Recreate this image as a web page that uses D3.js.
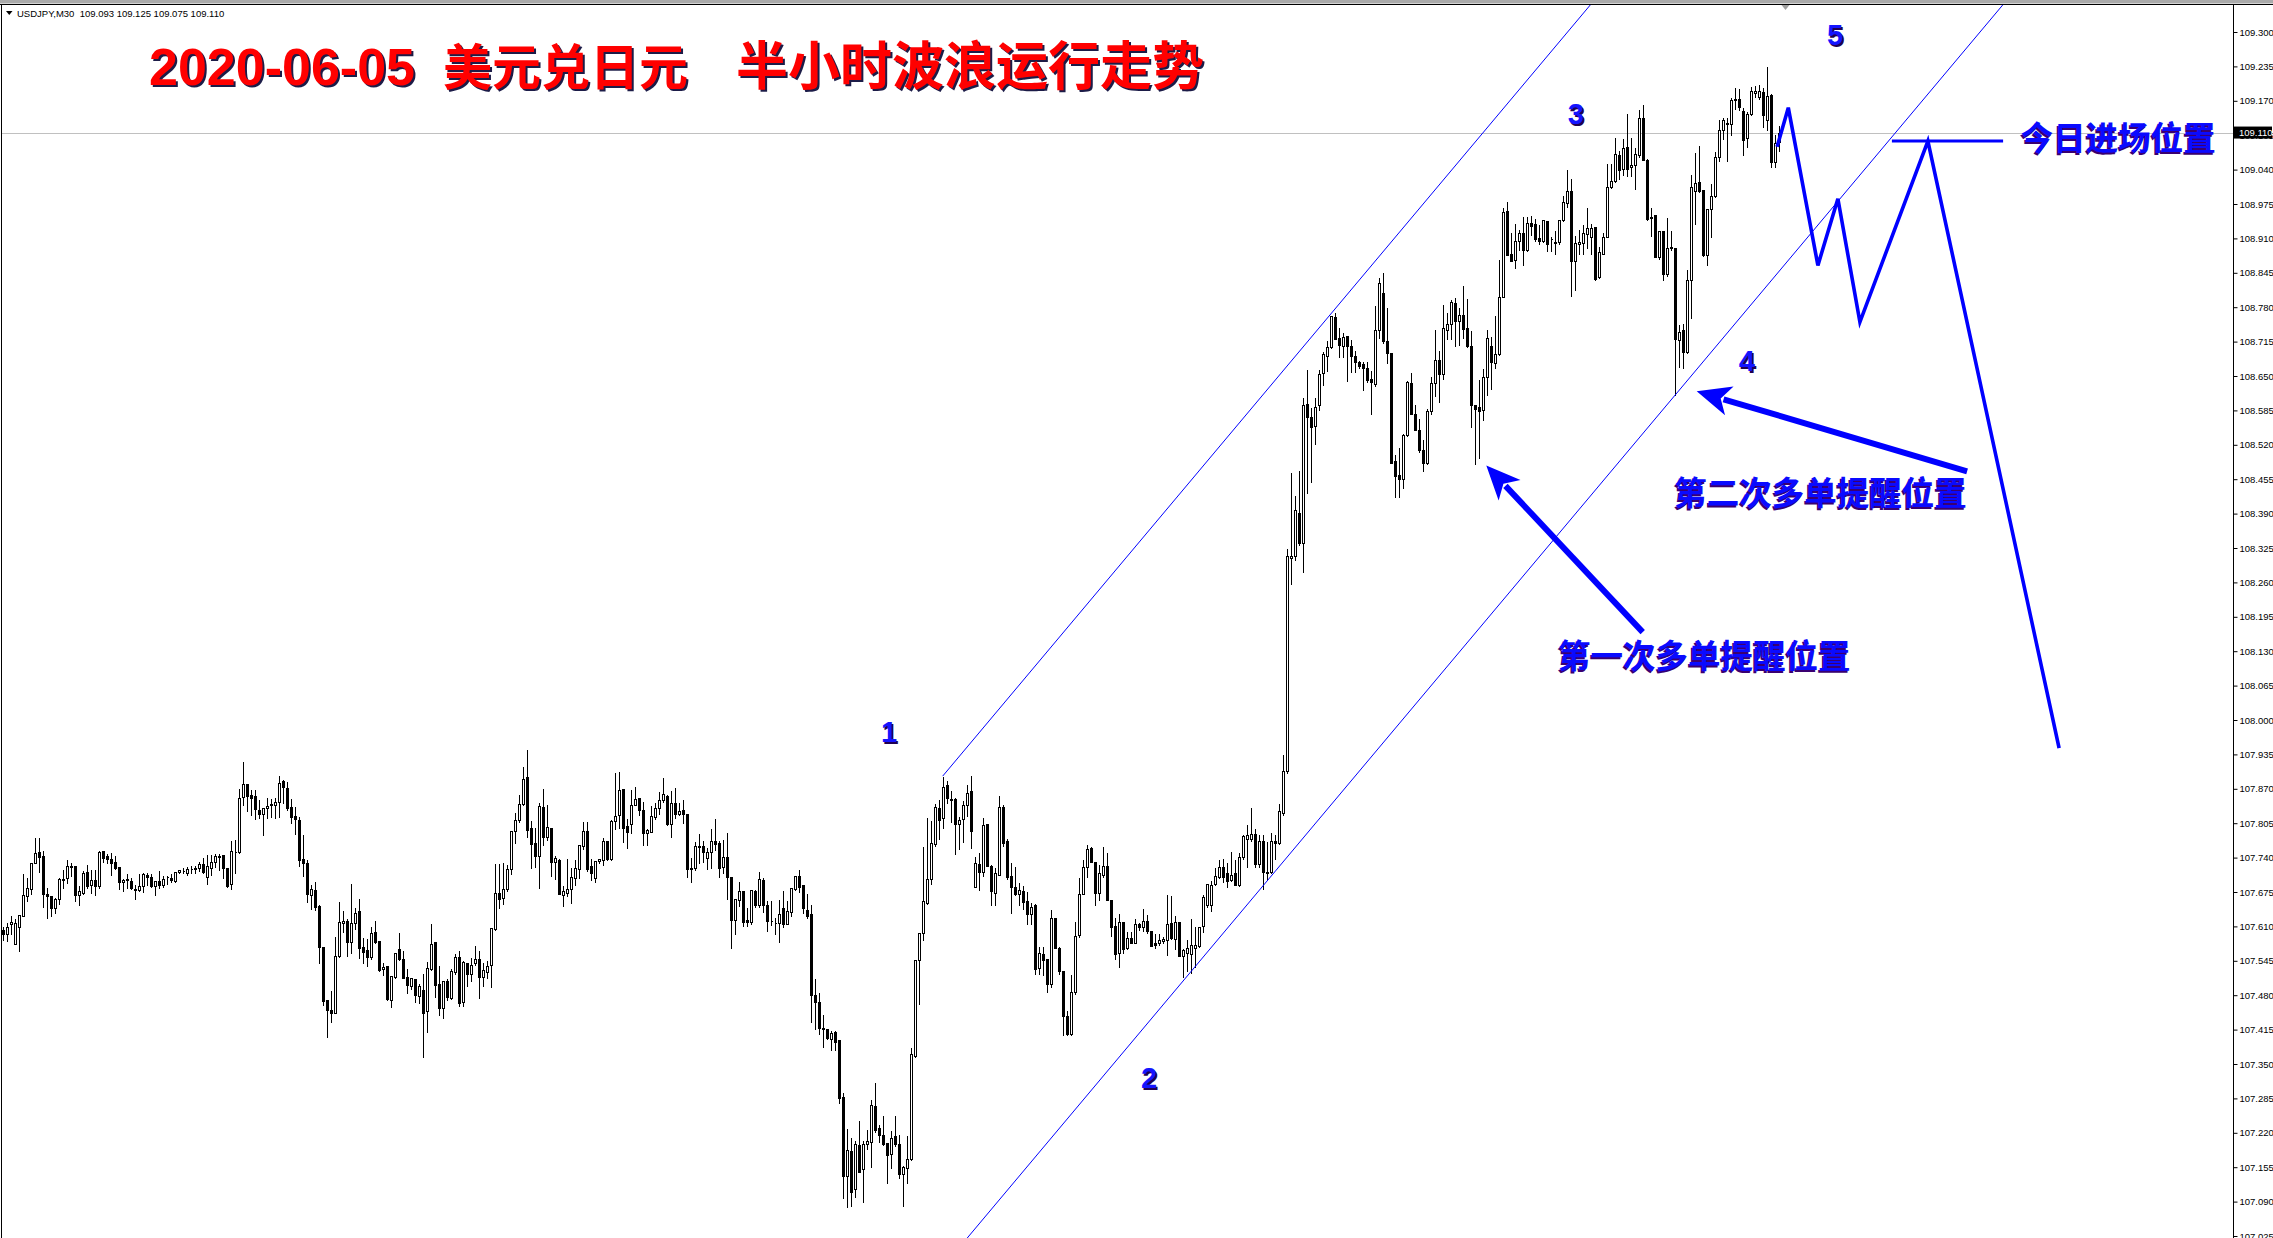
<!DOCTYPE html>
<html><head><meta charset="utf-8">
<script src="https://cdn.jsdelivr.net/npm/d3@7"></script>
<style>html,body{margin:0;padding:0;background:#fff;overflow:hidden}</style>
</head><body><svg id="c" width="2273" height="1238" xmlns="http://www.w3.org/2000/svg"></svg>
<script>
const symbolInfo = "USDJPY,M30  109.093 109.125 109.075 109.110";
const titleParts = ["2020-06-05", "美元兑日元", "半小时波浪运行走势"];
// [open, high, low, close] per 30-minute bar
const ohlc = [
[107.603,107.610,107.585,107.595],[107.595,107.619,107.583,107.609],[107.614,107.631,107.595,107.619],[107.576,107.625,107.576,107.616],[107.608,107.634,107.564,107.631],
[107.630,107.710,107.630,107.670],[107.668,107.704,107.658,107.682],[107.680,107.732,107.671,107.729],[107.730,107.779,107.730,107.748],[107.750,107.779,107.713,107.741],
[107.743,107.755,107.647,107.672],[107.672,107.685,107.626,107.668],[107.667,107.670,107.629,107.644],[107.644,107.666,107.636,107.661],[107.661,107.704,107.653,107.699],
[107.697,107.719,107.682,107.699],[107.701,107.738,107.692,107.725],[107.724,107.732,107.705,107.722],[107.724,107.726,107.658,107.670],[107.670,107.688,107.651,107.676],
[107.674,107.716,107.672,107.711],[107.712,107.727,107.683,107.687],[107.689,107.719,107.673,107.697],[107.697,107.718,107.670,107.687],[107.687,107.754,107.683,107.750],
[107.752,107.754,107.732,107.740],[107.743,107.749,107.729,107.737],[107.737,107.750,107.708,107.729],[107.731,107.744,107.718,107.721],[107.722,107.723,107.680,107.693],
[107.693,107.702,107.677,107.697],[107.697,107.710,107.683,107.699],[107.695,107.704,107.680,107.682],[107.680,107.691,107.661,107.679],[107.679,107.710,107.677,107.687],
[107.687,107.713,107.675,107.709],[107.708,107.712,107.689,107.704],[107.703,107.711,107.685,107.687],[107.687,107.697,107.670,107.695],[107.695,107.716,107.683,107.689],
[107.688,107.707,107.684,107.700],[107.703,107.707,107.691,107.704],[107.701,107.711,107.693,107.697],[107.695,107.715,107.694,107.713],[107.712,107.719,107.710,107.716],
[107.714,107.723,107.710,107.714],[107.711,107.724,107.708,107.718],[107.718,107.726,107.710,107.719],[107.720,107.726,107.711,107.719],[107.721,107.733,107.715,107.727],
[107.728,107.741,107.710,107.712],[107.704,107.746,107.691,107.724],[107.721,107.746,107.708,107.731],[107.731,107.748,107.723,107.743],[107.742,107.748,107.716,107.743],
[107.745,107.746,107.702,107.721],[107.721,107.723,107.685,107.687],[107.690,107.773,107.680,107.752],[107.750,107.775,107.711,107.750],[107.751,107.871,107.749,107.852],
[107.854,107.922,107.839,107.880],[107.880,107.881,107.828,107.857],[107.859,107.869,107.821,107.853],[107.856,107.869,107.813,107.831],[107.830,107.850,107.815,107.823],
[107.822,107.836,107.783,107.833],[107.833,107.854,107.815,107.837],[107.839,107.852,107.816,107.842],[107.839,107.854,107.815,107.845],[107.845,107.896,107.816,107.881],
[107.885,107.888,107.843,107.874],[107.872,107.885,107.830,107.834],[107.836,107.852,107.806,107.816],[107.818,107.838,107.784,107.812],[107.811,107.819,107.724,107.736],
[107.737,107.784,107.706,107.729],[107.730,107.738,107.656,107.672],[107.670,107.690,107.643,107.680],[107.679,107.695,107.641,107.647],[107.649,107.653,107.540,107.571],
[107.571,107.573,107.461,107.469],[107.471,107.471,107.401,107.452],[107.452,107.490,107.430,107.447],[107.447,107.592,107.446,107.555],[107.555,107.658,107.553,107.618],
[107.616,107.641,107.599,107.621],[107.620,107.625,107.555,107.581],[107.581,107.692,107.559,107.616],[107.616,107.647,107.606,107.636],[107.639,107.663,107.551,107.570],
[107.571,107.590,107.540,107.562],[107.566,107.589,107.536,107.553],[107.553,107.611,107.548,107.597],[107.599,107.622,107.578,107.580],[107.582,107.582,107.526,107.527],
[107.529,107.543,107.518,107.534],[107.535,107.535,107.471,107.472],[107.471,107.518,107.457,107.516],[107.515,107.562,107.513,107.560],[107.568,107.599,107.546,107.549],
[107.549,107.566,107.512,107.513],[107.514,107.531,107.485,107.500],[107.498,107.515,107.492,107.512],[107.510,107.513,107.467,107.480],[107.479,107.503,107.466,107.497],
[107.490,107.522,107.364,107.447],[107.451,107.545,107.411,107.532],[107.529,107.616,107.527,107.577],[107.580,107.582,107.477,107.500],[107.501,107.538,107.442,107.456],
[107.456,107.507,107.436,107.506],[107.506,107.512,107.471,107.477],[107.475,107.532,107.472,107.526],[107.524,107.560,107.521,107.552],[107.552,107.566,107.459,107.466],
[107.468,107.546,107.459,107.543],[107.541,107.543,107.498,107.521],[107.521,107.553,107.507,107.538],[107.540,107.575,107.538,107.549],[107.549,107.565,107.474,107.515],
[107.515,107.542,107.498,107.527],[107.523,107.546,107.512,107.536],[107.537,107.609,107.496,107.607],[107.605,107.730,107.603,107.674],[107.674,107.730,107.645,107.661],
[107.663,107.732,107.653,107.680],[107.681,107.727,107.677,107.718],[107.718,107.793,107.709,107.790],[107.791,107.827,107.767,107.811],[107.811,107.861,107.808,107.841],
[107.841,107.913,107.839,107.888],[107.892,107.946,107.778,107.793],[107.795,107.811,107.721,107.765],[107.767,107.797,107.723,107.743],[107.743,107.846,107.683,107.837],
[107.835,107.871,107.764,107.779],[107.779,107.842,107.773,107.797],[107.796,107.796,107.706,107.731],[107.731,107.745,107.699,107.740],[107.735,107.740,107.671,107.672],
[107.670,107.689,107.649,107.676],[107.674,107.740,107.668,107.681],[107.681,107.722,107.655,107.703],[107.702,107.738,107.689,107.720],[107.719,107.766,107.701,107.763],
[107.762,107.809,107.756,107.790],[107.790,107.809,107.715,107.718],[107.724,107.739,107.697,107.711],[107.702,107.735,107.694,107.733],[107.734,107.740,107.729,107.737],
[107.735,107.778,107.726,107.771],[107.771,107.774,107.735,107.737],[107.737,107.812,107.735,107.809],[107.810,107.902,107.794,107.818],[107.820,107.904,107.795,107.867],
[107.869,107.871,107.770,107.796],[107.800,107.815,107.759,107.789],[107.804,107.869,107.787,107.839],[107.840,107.875,107.839,107.850],[107.852,107.853,107.820,107.829],
[107.830,107.847,107.764,107.787],[107.787,107.795,107.764,107.792],[107.789,107.839,107.788,107.818],[107.816,107.845,107.812,107.833],[107.834,107.866,107.822,107.848],
[107.848,107.892,107.845,107.860],[107.857,107.860,107.801,107.804],[107.804,107.867,107.779,107.844],[107.844,107.873,107.815,107.823],[107.823,107.845,107.820,107.828],
[107.829,107.850,107.806,107.822],[107.822,107.822,107.704,107.718],[107.719,107.741,107.694,107.721],[107.721,107.772,107.717,107.761],[107.760,107.787,107.730,107.762],
[107.762,107.773,107.732,107.751],[107.740,107.760,107.718,107.750],[107.751,107.796,107.721,107.771],[107.771,107.814,107.754,107.765],[107.767,107.773,107.704,107.721],
[107.722,107.776,107.710,107.742],[107.741,107.788,107.661,107.704],[107.704,107.704,107.570,107.622],[107.622,107.662,107.595,107.661],[107.660,107.696,107.649,107.677],
[107.677,107.679,107.611,107.619],[107.622,107.647,107.611,107.619],[107.618,107.680,107.614,107.679],[107.677,107.680,107.647,107.650],[107.650,107.714,107.647,107.699],
[107.697,107.704,107.638,107.650],[107.651,107.660,107.601,107.621],[107.621,107.660,107.612,107.620],[107.617,107.628,107.595,107.616],[107.617,107.661,107.581,107.634],
[107.644,107.679,107.609,107.614],[107.614,107.660,107.614,107.639],[107.638,107.685,107.629,107.682],[107.680,107.707,107.679,107.705],[107.705,107.718,107.675,107.685],
[107.688,107.689,107.636,107.645],[107.641,107.673,107.625,107.630],[107.633,107.653,107.430,107.480],[107.480,107.512,107.417,107.467],[107.468,107.486,107.406,107.418],
[107.418,107.444,107.382,107.417],[107.417,107.417,107.398,107.399],[107.398,107.414,107.376,107.408],[107.410,107.414,107.376,107.392],[107.395,107.395,107.277,107.286],
[107.287,107.297,107.097,107.139],[107.139,107.229,107.080,107.187],[107.185,107.212,107.081,107.108],[107.113,107.206,107.099,107.198],[107.197,107.245,107.146,107.146],
[107.151,107.206,107.090,107.198],[107.198,107.228,107.190,107.204],[107.203,107.283,107.156,107.272],[107.270,107.316,107.222,107.226],[107.229,107.237,107.203,107.216],
[107.216,107.253,107.197,107.199],[107.201,107.201,107.125,107.178],[107.179,107.226,107.154,107.211],[107.214,107.253,107.195,107.198],[107.198,107.217,107.135,107.143],
[107.143,107.159,107.081,107.156],[107.154,107.216,107.125,107.171],[107.170,107.383,107.168,107.368],[107.365,107.549,107.364,107.546],[107.546,107.600,107.464,107.598],
[107.597,107.762,107.584,107.658],[107.655,107.817,107.653,107.699],
[107.700,107.811,107.690,107.768],[107.766,107.843,107.761,107.835],[107.833,107.850,107.775,107.811],[107.814,107.894,107.795,107.874],[107.877,107.886,107.843,107.852],
[107.850,107.867,107.807,107.849],[107.850,107.854,107.746,107.804],[107.804,107.819,107.756,107.811],[107.812,107.848,107.769,107.840],[107.840,107.879,107.819,107.862],
[107.865,107.896,107.758,107.790],[107.684,107.743,107.684,107.729],[107.727,107.751,107.679,107.713],[107.713,107.816,107.705,107.801],[107.803,107.803,107.725,107.725],
[107.725,107.727,107.650,107.676],[107.674,107.722,107.650,107.710],[107.708,107.859,107.708,107.836],[107.836,107.841,107.761,107.768],[107.771,107.777,107.700,107.703],
[107.705,107.732,107.636,107.684],[107.684,107.724,107.669,107.671],[107.671,107.693,107.650,107.679],[107.677,107.689,107.642,107.657],[107.658,107.677,107.614,107.633],
[107.633,107.657,107.614,107.647],[107.650,107.655,107.520,107.529],[107.531,107.573,107.520,107.560],[107.558,107.573,107.518,107.546],[107.549,107.549,107.486,107.501],
[107.501,107.643,107.496,107.626],[107.626,107.626,107.570,107.570],[107.570,107.573,107.520,107.525],[107.525,107.525,107.404,107.440],[107.440,107.452,107.404,107.406],
[107.406,107.520,107.404,107.486],[107.486,107.621,107.483,107.592],[107.594,107.703,107.590,107.671],[107.671,107.737,107.671,107.722],[107.722,107.766,107.703,107.756],
[107.758,107.761,107.732,107.732],[107.732,107.732,107.650,107.674],[107.674,107.727,107.660,107.710],[107.708,107.761,107.703,107.724],[107.724,107.751,107.660,107.660],
[107.660,107.660,107.592,107.609],[107.611,107.628,107.549,107.558],[107.560,107.635,107.534,107.618],[107.618,107.621,107.560,107.568],[107.570,107.602,107.568,107.589],
[107.589,107.602,107.578,107.578],[107.578,107.626,107.578,107.614],[107.614,107.618,107.604,107.609],[107.609,107.645,107.602,107.621],[107.621,107.633,107.597,107.602],
[107.602,107.602,107.573,107.573],[107.578,107.597,107.570,107.575],[107.578,107.597,107.575,107.584],[107.583,107.592,107.578,107.587],[107.584,107.672,107.556,107.614],
[107.616,107.669,107.587,107.589],[107.587,107.631,107.568,107.618],[107.618,107.618,107.554,107.554],[107.554,107.570,107.515,107.566],[107.560,107.587,107.525,107.570],
[107.558,107.626,107.522,107.575],[107.570,107.611,107.534,107.575],[107.573,107.611,107.571,107.609],[107.611,107.671,107.599,107.666],[107.650,107.690,107.647,107.690],
[107.650,107.698,107.640,107.688],[107.690,107.722,107.688,107.705],[107.703,107.737,107.701,107.722],[107.722,107.739,107.694,107.703],[107.710,107.732,107.684,107.695],
[107.698,107.753,107.695,107.708],[107.710,107.737,107.688,107.688],[107.688,107.751,107.686,107.742],[107.742,107.785,107.737,107.780],[107.775,107.804,107.722,107.782],
[107.775,107.835,107.772,107.785],[107.785,107.795,107.722,107.727],[107.727,107.785,107.722,107.771],[107.772,107.785,107.681,107.713],[107.713,107.771,107.698,107.710],
[107.713,107.788,107.710,107.771],[107.771,107.785,107.737,107.768],[107.768,107.843,107.766,107.828],[107.825,107.936,107.821,107.904],[107.904,108.325,107.899,108.310],
[108.307,108.469,108.257,108.310],[108.310,108.426,108.303,108.397],[108.392,108.472,108.330,108.334],
[108.334,108.611,108.280,108.596],[108.597,108.663,108.429,108.572],[108.572,108.591,108.449,108.554],[108.556,108.611,108.522,108.592],[108.596,108.664,108.585,108.653],
[108.655,108.697,108.633,108.691],[108.687,108.718,108.660,108.704],[108.705,108.766,108.702,108.764],[108.761,108.771,108.721,108.720],[108.722,108.742,108.685,108.709],
[108.707,108.734,108.685,108.724],[108.726,108.727,108.641,108.707],[108.707,108.719,108.657,108.687],[108.687,108.699,108.658,108.677],[108.677,108.680,108.665,108.668],
[108.673,108.679,108.623,108.665],[108.666,108.679,108.639,108.643],[108.645,108.662,108.579,108.639],[108.635,108.785,108.631,108.736],[108.736,108.837,108.722,108.826],
[108.807,108.847,108.712,108.717],[108.717,108.780,108.674,108.694],[108.693,108.693,108.486,108.486],[108.490,108.503,108.422,108.461],[108.463,108.515,108.422,108.455],
[108.456,108.542,108.439,108.539],[108.539,108.643,108.537,108.638],[108.637,108.658,108.578,108.579],[108.579,108.598,108.548,108.548],[108.548,108.571,108.507,108.511],
[108.511,108.531,108.471,108.486],[108.486,108.589,108.484,108.584],[108.584,108.650,108.579,108.636],[108.636,108.738,108.612,108.680],[108.680,108.700,108.601,108.653],
[108.653,108.786,108.645,108.741],[108.736,108.770,108.719,108.749],[108.749,108.795,108.720,108.790],[108.788,108.800,108.706,108.753],[108.753,108.780,108.709,108.766],
[108.766,108.822,108.722,108.739],[108.741,108.797,108.705,108.707],[108.707,108.736,108.554,108.596],[108.596,108.596,108.483,108.587],[108.591,108.645,108.496,108.584],
[108.585,108.665,108.567,108.648],[108.648,108.739,108.614,108.722],[108.707,108.726,108.625,108.677],[108.675,108.766,108.665,108.692],[108.692,108.871,108.689,108.799],
[108.800,108.969,108.799,108.959],[108.961,108.980,108.879,108.879],[108.881,108.922,108.868,108.868],[108.869,108.940,108.855,108.905],[108.905,108.927,108.888,108.920],
[108.920,108.952,108.859,108.888],[108.889,108.952,108.886,108.940],[108.940,108.954,108.916,108.934],[108.938,108.948,108.905,108.909],[108.911,108.938,108.900,108.906],
[108.905,108.947,108.903,108.945],[108.943,108.945,108.886,108.900],[108.909,108.915,108.886,108.908],[108.903,108.925,108.880,108.901],[108.903,108.945,108.900,108.944],
[108.944,108.992,108.942,108.979],
[108.977,109.041,108.970,108.999],[109.000,109.025,108.801,108.867],[108.867,108.916,108.813,108.902],[108.900,108.927,108.880,108.904],[108.902,108.938,108.880,108.920],
[108.919,108.970,108.891,108.929],[108.912,108.939,108.881,108.930],[108.932,108.933,108.832,108.834],[108.837,108.895,108.836,108.885],[108.881,108.922,108.880,108.913],
[108.913,109.052,108.912,109.007],[109.007,109.052,109.005,109.018],[109.018,109.101,109.017,109.070],[109.067,109.077,109.023,109.040],[109.042,109.099,109.029,109.080],
[109.082,109.147,109.028,109.042],[109.044,109.101,109.028,109.048],[109.048,109.083,109.004,109.069],[109.067,109.154,109.064,109.137],[109.137,109.164,109.058,109.059],
[109.059,109.061,108.944,108.946],[108.948,108.970,108.914,108.951],[108.954,108.955,108.874,108.875],[108.875,108.925,108.872,108.924],[108.924,108.925,108.831,108.842],
[108.842,108.951,108.839,108.891],[108.891,108.925,108.888,108.893],[108.891,108.891,108.615,108.719],[108.718,108.749,108.667,108.733],[108.737,108.751,108.666,108.696],
[108.696,108.853,108.693,108.832],[108.832,109.031,108.760,109.007],[109.000,109.074,108.938,109.014],[109.016,109.087,108.998,109.000],[109.001,109.001,108.876,108.878],
[108.878,108.966,108.859,108.965],[108.965,109.014,108.913,108.990],[108.990,109.075,108.988,109.063],[109.063,109.135,109.057,109.114],[109.114,109.140,109.097,109.133],
[109.127,109.140,109.057,109.128],[109.126,109.178,109.106,109.171],[109.172,109.196,109.155,109.174],[109.174,109.195,109.153,109.159],[109.150,109.159,109.068,109.096],
[109.099,109.151,109.083,109.145],[109.145,109.198,109.143,109.188],[109.185,109.200,109.178,109.188],[109.178,109.201,109.174,109.188],[109.187,109.196,109.120,109.143],
[109.133,109.235,109.114,109.179],[109.181,109.184,109.044,109.055],[109.055,109.108,109.044,109.091],[109.093,109.125,109.075,109.110]
];
const yTicks = [109.300,109.235,109.170,109.105,109.040,108.975,108.910,108.845,108.780,108.715,108.650,108.585,108.520,108.455,108.390,108.325,108.260,108.195,108.130,108.065,108.000,107.935,107.870,107.805,107.740,107.675,107.610,107.545,107.480,107.415,107.350,107.285,107.220,107.155,107.090,107.025];
const bidPrice = 109.110;
const channel = {startBar: 235, upper: 107.894, lower: 106.966, slopePerBar: 0.009, endBar: 620};
const waveLabels = [
  {t:"1", bar:221.6, p:107.958}, {t:"2", bar:286.6, p:107.304}, {t:"3", bar:393.3, p:109.126},
  {t:"4", bar:436.0, p:108.659}, {t:"5", bar:458.1, p:109.275}
];
const forecastPath = [[443.6,109.083],[446.4,109.157],[453.8,108.859],[458.8,108.985],[464.3,108.752],[481.3,109.094],[514.1,107.947]];
const entryLine = [[472.3,109.094],[500.1,109.094]];
const arrows = [
  {from:[410.0,108.166], to:[370.9,108.481]},
  {from:[491.1,108.470], to:[423.5,108.621]}
];
const notes = [
  {t:"第一次多单提醒位置", bar:388.8, p:108.098},
  {t:"第二次多单提醒位置", bar:417.9, p:108.406},
  {t:"今日进场位置", bar:504.5, p:109.077}
];
const shiftMarkerBar = 445.7;

const W = 2273, H = 1238, plotRight = 2233;
const svg = d3.select("#c");
const x = d3.scaleLinear().domain([0, 500]).range([2.7, 2002.7]);
const y = d3.scaleLinear().domain([107.025, 109.300]).range([1236, 32]);

svg.append("rect").attr("width", W).attr("height", H).attr("fill", "#fff");
const defs = svg.append("defs");
defs.append("clipPath").attr("id", "plot").append("rect").attr("x", 2).attr("y", 5).attr("width", plotRight - 2).attr("height", H - 5);

// frame
svg.append("rect").attr("x", 0).attr("y", 0).attr("width", W).attr("height", 3.5).attr("fill", "#aaaaaa");
svg.append("line").attr("x1", 0).attr("x2", W).attr("y1", 4.5).attr("y2", 4.5).attr("stroke", "#000");
svg.append("line").attr("x1", 1.5).attr("x2", 1.5).attr("y1", 4).attr("y2", H).attr("stroke", "#000");
svg.append("line").attr("x1", plotRight + 0.5).attr("x2", plotRight + 0.5).attr("y1", 4).attr("y2", H).attr("stroke", "#000");

const plot = svg.append("g").attr("clip-path", "url(#plot)");

// bid line
plot.append("line").attr("x1", 2).attr("x2", plotRight).attr("y1", Math.round(y(bidPrice)) + 0.5).attr("y2", Math.round(y(bidPrice)) + 0.5)
  .attr("stroke", "#c0c0c0").attr("stroke-width", 1);

// candles
const cg = plot.append("g").attr("shape-rendering", "crispEdges");
ohlc.forEach((d, i) => {
  const [o, h, l, c] = d;
  const cx = Math.round(x(i)) + 0.5;
  const yh = Math.round(y(h)) + 0.5, yl = Math.round(y(l)) + 0.5;
  cg.append("line").attr("x1", cx).attr("x2", cx).attr("y1", yh).attr("y2", yl).attr("stroke", "#000").attr("stroke-width", 1);
  const yt = Math.round(y(Math.max(o, c))) + 0.5, yb = Math.round(y(Math.min(o, c))) + 0.5;
  const bull = c >= o;
  cg.append("path").attr("d", `M${cx-1},${yt}H${cx+1}V${yb}H${cx-1}Z`)
    .attr("fill", bull ? "#fff" : "#000").attr("stroke", "#000").attr("stroke-width", 1);
});

// channel
const ch = channel, span = ch.endBar - ch.startBar;
[ch.upper, ch.lower].forEach(p0 => {
  plot.append("line").attr("x1", x(ch.startBar)).attr("y1", y(p0))
    .attr("x2", x(ch.endBar)).attr("y2", y(p0 + span * ch.slopePerBar))
    .attr("stroke", "#0000ff").attr("stroke-width", 1);
});

// forecast zigzag and entry line
const line = d3.line().x(d => x(d[0])).y(d => y(d[1]));
plot.append("path").attr("d", line(forecastPath)).attr("fill", "none").attr("stroke", "#0000ff").attr("stroke-width", 3.6).attr("stroke-linejoin", "miter");
plot.append("path").attr("d", line(entryLine)).attr("fill", "none").attr("stroke", "#0000ff").attr("stroke-width", 3.2);

// arrows
arrows.forEach(a => {
  const x1 = x(a.from[0]), y1 = y(a.from[1]), x2 = x(a.to[0]), y2 = y(a.to[1]);
  const ang = Math.atan2(y2 - y1, x2 - x1), len = 34, hw = 15;
  const bx = x2 - len * Math.cos(ang), by = y2 - len * Math.sin(ang);
  plot.append("line").attr("x1", x1).attr("y1", y1).attr("x2", bx + 6 * Math.cos(ang)).attr("y2", by + 6 * Math.sin(ang))
    .attr("stroke", "#0000ff").attr("stroke-width", 6);
  const px = -Math.sin(ang), py = Math.cos(ang);
  plot.append("path").attr("d", `M${x2},${y2}L${bx + hw*px},${by + hw*py}L${bx + 9*Math.cos(ang)},${by + 9*Math.sin(ang)}L${bx - hw*px},${by - hw*py}Z`)
    .attr("fill", "#0000ff");
});

// shadowed text helper
function shadowText(g, txt, tx, ty, opts) {
  const s = g.append("text").attr("x", tx + opts.dx).attr("y", ty + opts.dy).text(txt)
    .attr("font-family", opts.font).attr("font-size", opts.size).attr("font-weight", "bold")
    .attr("fill", opts.shadow).attr("text-anchor", opts.anchor || "start");
  const m = g.append("text").attr("x", tx).attr("y", ty).text(txt)
    .attr("font-family", opts.font).attr("font-size", opts.size).attr("font-weight", "bold")
    .attr("fill", opts.fill).attr("text-anchor", opts.anchor || "start");
  return m;
}

// title
const tg = svg.append("g");
const tFont = "'Liberation Sans', Arial, 'Noto Sans CJK SC', sans-serif";
const cjk = "'Noto Sans CJK SC', 'Noto Sans CJK JP', sans-serif";
shadowText(tg, titleParts[0], 149, 85, {dx: 2, dy: 2, font: tFont, size: 52, fill: "#ff0000", shadow: "#1c1c48"});
shadowText(tg, titleParts[1], 443, 85, {dx: 2, dy: 2, font: cjk, size: 49, fill: "#ff0000", shadow: "#1c1c48"});
shadowText(tg, titleParts[2], 736, 85, {dx: 2, dy: 2, font: cjk, size: 52, fill: "#ff0000", shadow: "#1c1c48"});

// wave labels
waveLabels.forEach(w => {
  shadowText(svg, w.t, x(w.bar), y(w.p), {dx: 1.5, dy: 1.5, font: "'Liberation Sans', Arial, sans-serif", size: 29, fill: "#1414ff", shadow: "#200050", anchor: "middle"});
});

// notes
notes.forEach(n => {
  shadowText(svg, n.t, x(n.bar), y(n.p), {dx: -1.5, dy: 1.5, font: cjk, size: 32.5, fill: "#0a0aff", shadow: "#3a0070"});
});

// shift marker
const sx = x(shiftMarkerBar);
svg.append("path").attr("d", `M${sx-4},5L${sx+4},5L${sx},10Z`).attr("fill", "#a0a0a0");

// header
svg.append("path").attr("d", "M6,11L12.5,11L9.25,15Z").attr("fill", "#000");
svg.append("text").attr("x", 17).attr("y", 16.5).text(symbolInfo).attr("xml:space", "preserve").style("white-space", "pre")
  .attr("font-family", "'Liberation Sans', Arial, sans-serif").attr("font-size", 9.5).attr("fill", "#000");

// price axis
const axis = d3.axisRight(y).tickValues(yTicks).tickFormat(d3.format(".3f")).tickSize(4).tickSizeOuter(0).tickPadding(2);
const ag = svg.append("g").attr("transform", `translate(${plotRight + 0.5},0)`).call(axis);
ag.select(".domain").remove();
ag.selectAll("text").attr("font-family", "'Liberation Sans', Arial, sans-serif").attr("font-size", 9.5).attr("fill", "#000");
ag.selectAll("line").attr("stroke", "#000");

// bid label box
const by0 = y(bidPrice);
svg.append("rect").attr("x", plotRight + 1).attr("y", by0 - 6).attr("width", W - plotRight - 2).attr("height", 12).attr("fill", "#000");
svg.append("text").attr("x", plotRight + 6).attr("y", by0 + 3.5).text(d3.format(".3f")(bidPrice))
  .attr("font-family", "'Liberation Sans', Arial, sans-serif").attr("font-size", 9.5).attr("fill", "#fff");
</script></body></html>
